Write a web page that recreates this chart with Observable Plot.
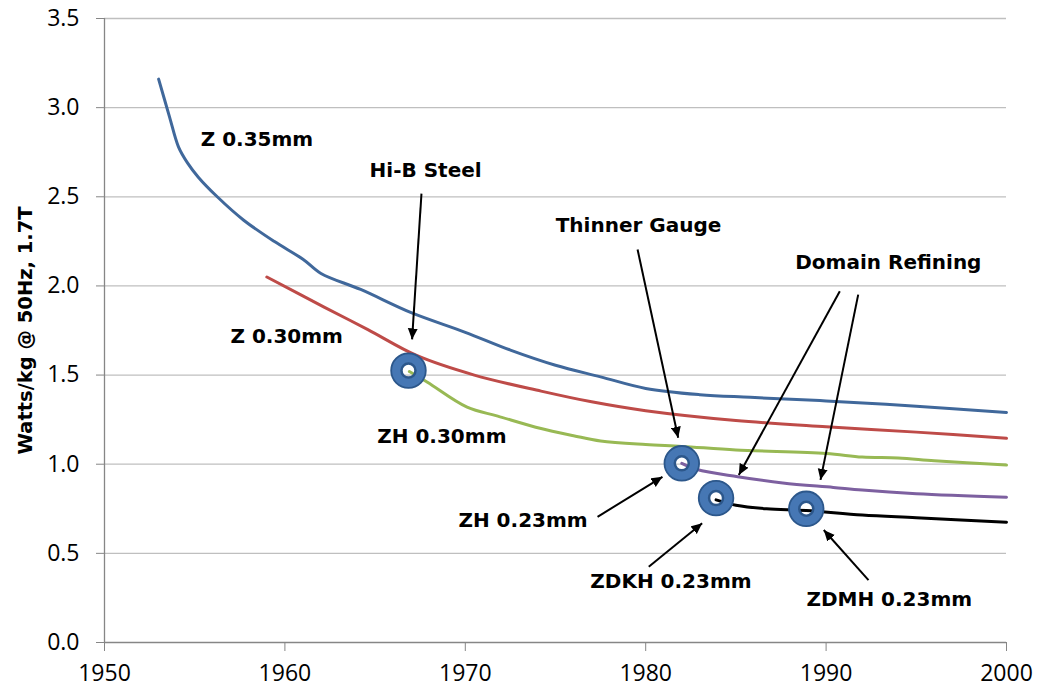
<!DOCTYPE html>
<html>
<head>
<meta charset="utf-8">
<script src="https://cdn.jsdelivr.net/npm/d3@7"></script>
<script src="https://cdn.jsdelivr.net/npm/@observablehq/plot@0.6"></script>
<style>
  html, body { margin: 0; padding: 0; background: #fff; }
  #chart { width: 1037px; height: 690px; }
</style>
</head>
<body>
<div id="chart"></div>
<script>
// ---- Data ----
const xTicks = [1950, 1960, 1970, 1980, 1990, 2000];
const yTicks = [0, 0.5, 1, 1.5, 2, 2.5, 3, 3.5];

const z035Year  = [1953, 1953.6, 1954.1, 1954.6, 1955.2, 1956.25, 1957.7, 1959.4, 1961, 1962, 1964.2, 1967, 1970, 1972.5, 1975, 1977.5, 1980, 1983, 1985.8, 1990, 1995, 2000];
const z035Watts = [3.16, 2.95, 2.78, 2.69, 2.61, 2.50, 2.37, 2.25, 2.15, 2.07, 1.98, 1.85, 1.74, 1.64, 1.555, 1.49, 1.425, 1.39, 1.375, 1.355, 1.325, 1.29];

const z030Year  = [1959, 1962.2, 1964.6, 1967.3, 1970.5, 1974.2, 1977, 1980, 1985, 1990, 1995, 2000];
const z030Watts = [2.05, 1.88, 1.755, 1.61, 1.50, 1.41, 1.35, 1.30, 1.245, 1.21, 1.18, 1.145];

const zh030Year  = [1966.9, 1967.9, 1970.1, 1971.8, 1974.2, 1976, 1977.5, 1980, 1982, 1985, 1990, 1992, 1994, 1996, 2000];
const zh030Watts = [1.52, 1.46, 1.32, 1.27, 1.20, 1.16, 1.13, 1.11, 1.10, 1.08, 1.06, 1.04, 1.035, 1.02, 0.995];

const zh023Year  = [1982, 1982.85, 1985.1, 1987.6, 1990.4, 1992, 1995, 2000];
const zh023Watts = [1.005, 0.97, 0.93, 0.895, 0.87, 0.855, 0.835, 0.815];

const zdkhYear  = [1983.9, 1985, 1986.7, 1988.9, 1992, 1995, 2000];
const zdkhWatts = [0.80, 0.77, 0.75, 0.74, 0.715, 0.70, 0.675];

const markerYear  = [1966.85, 1982, 1983.9, 1988.9];
const markerWatts = [1.525, 1.005, 0.81, 0.75];

const labelText = ["Z 0.35mm", "Hi-B Steel", "Z 0.30mm", "ZH 0.30mm", "Thinner Gauge", "Domain Refining", "ZH 0.23mm", "ZDKH 0.23mm", "ZDMH 0.23mm"];
const labelYear = [1958.45, 1967.8, 1960.1, 1968.7, 1979.6, 1993.45, 1973.2, 1981.4, 1993.5];
const labelWatts = [2.822, 2.648, 1.715, 1.155, 2.339, 2.13, 0.682, 0.339, 0.238];

const arrowFromYear  = [1967.57, 1979.55, 1990.76, 1991.78, 1977.33, 1980.17, 1992.35];
const arrowFromWatts = [2.518, 2.204, 1.97, 1.951, 0.705, 0.425, 0.35];
const arrowToYear    = [1967.05, 1981.8, 1985.16, 1989.69, 1980.93, 1983.13, 1989.87];
const arrowToWatts   = [1.70, 1.148, 0.94, 0.912, 0.929, 0.669, 0.631];

// ---- Tables built from arrays ----
const toRows = (xs, ys, s) => xs.map((x, i) => ({year: x, watts: ys[i], series: s}));
const series = [
  {rows: toRows(z035Year, z035Watts, "Z 0.35mm"), color: "#40689B"},
  {rows: toRows(z030Year, z030Watts, "Z 0.30mm"), color: "#BE4B48"},
  {rows: toRows(zh030Year, zh030Watts, "ZH 0.30mm"), color: "#98B954"},
  {rows: toRows(zh023Year, zh023Watts, "ZH 0.23mm"), color: "#7D60A0"},
  {rows: toRows(zdkhYear, zdkhWatts, "ZDKH 0.23mm"), color: "#000000"}
];
const markers = markerYear.map((x, i) => ({year: x, watts: markerWatts[i]}));
const labels = labelText.map((t, i) => ({text: t, year: labelYear[i], watts: labelWatts[i]}));
const arrows = arrowFromYear.map((x, i) => ({x1: x, y1: arrowFromWatts[i], x2: arrowToYear[i], y2: arrowToWatts[i]}));

function filledArrow(color) {
  const m = document.createElementNS("http://www.w3.org/2000/svg", "marker");
  m.setAttribute("viewBox", "-11 -5.5 11 11");
  m.setAttribute("markerWidth", "11");
  m.setAttribute("markerHeight", "11");
  m.setAttribute("markerUnits", "userSpaceOnUse");
  m.setAttribute("orient", "auto");
  m.setAttribute("refX", "0");
  m.setAttribute("refY", "0");
  const p = document.createElementNS("http://www.w3.org/2000/svg", "path");
  p.setAttribute("d", "M-11,-5L0,0L-11,5Z");
  p.setAttribute("fill", color);
  p.setAttribute("stroke", "none");
  m.appendChild(p);
  return m;
}

const gridColor = "#BFBFBF";
const axisColor = "#868686";
const labelFont = "DejaVu Sans";

function build(useCustomMarker) {
  return Plot.plot({
    width: 1037,
    height: 690,
    marginTop: 18,
    marginBottom: 48,
    marginLeft: 104,
    marginRight: 31,
    style: {fontFamily: "'Open Sans', sans-serif", fontSize: "23px", color: "#000", background: "#fff"},
    x: {domain: [1950, 2000], label: null},
    y: {domain: [0, 3.5], label: null},
    marks: [
      Plot.gridY(yTicks.filter(d => d > 0), {stroke: gridColor, strokeOpacity: 1, strokeWidth: 1.3}),
      Plot.ruleY([0], {stroke: axisColor, strokeWidth: 1.3}),
      Plot.ruleX([1950], {stroke: axisColor, strokeWidth: 1.3}),
      Plot.axisY({ticks: yTicks, tickFormat: d3.format(".1f"), tickSize: 8, tickPadding: 17, stroke: axisColor, fill: "#000", label: null, fontSize: 23}),
      Plot.axisX({ticks: xTicks, tickFormat: d => String(d), tickSize: 9, tickPadding: 13, stroke: axisColor, fill: "#000", label: null, fontSize: 23}),
      ...series.map(s => Plot.line(s.rows, {x: "year", y: "watts", stroke: s.color, strokeWidth: 3, curve: "catmull-rom"})),
      Plot.dot(markers, {x: "year", y: "watts", r: 12.5, fill: "none", stroke: "#4677B4", strokeWidth: 10}),
      Plot.dot(markers, {x: "year", y: "watts", r: 17.3, fill: "none", stroke: "#2C578B", strokeWidth: 1.8}),
      Plot.dot(markers, {x: "year", y: "watts", r: 7, fill: "none", stroke: "#2C578B", strokeWidth: 2.5}),
      useCustomMarker
        ? Plot.link(arrows, {x1: "x1", y1: "y1", x2: "x2", y2: "y2", stroke: "#000", strokeWidth: 2, markerEnd: filledArrow})
        : Plot.arrow(arrows, {x1: "x1", y1: "y1", x2: "x2", y2: "y2", stroke: "#000", strokeWidth: 2, headLength: 12}),
      Plot.text(labels, {x: "year", y: "watts", text: "text", fontFamily: labelFont, fontWeight: "bold", fontSize: 20, fill: "#000", textAnchor: "middle", lineAnchor: "middle"}),
      Plot.text(["Watts/kg @ 50Hz, 1.7T"], {frameAnchor: "left", dx: -79, rotate: -90, fontFamily: labelFont, fontWeight: "bold", fontSize: 19.5, fill: "#000", textAnchor: "middle", lineAnchor: "middle"})
    ]
  });
}

let chart;
try {
  chart = build(true);
} catch (e) {
  chart = build(false);
}
document.getElementById("chart").appendChild(chart);
</script>
</body>
</html>
